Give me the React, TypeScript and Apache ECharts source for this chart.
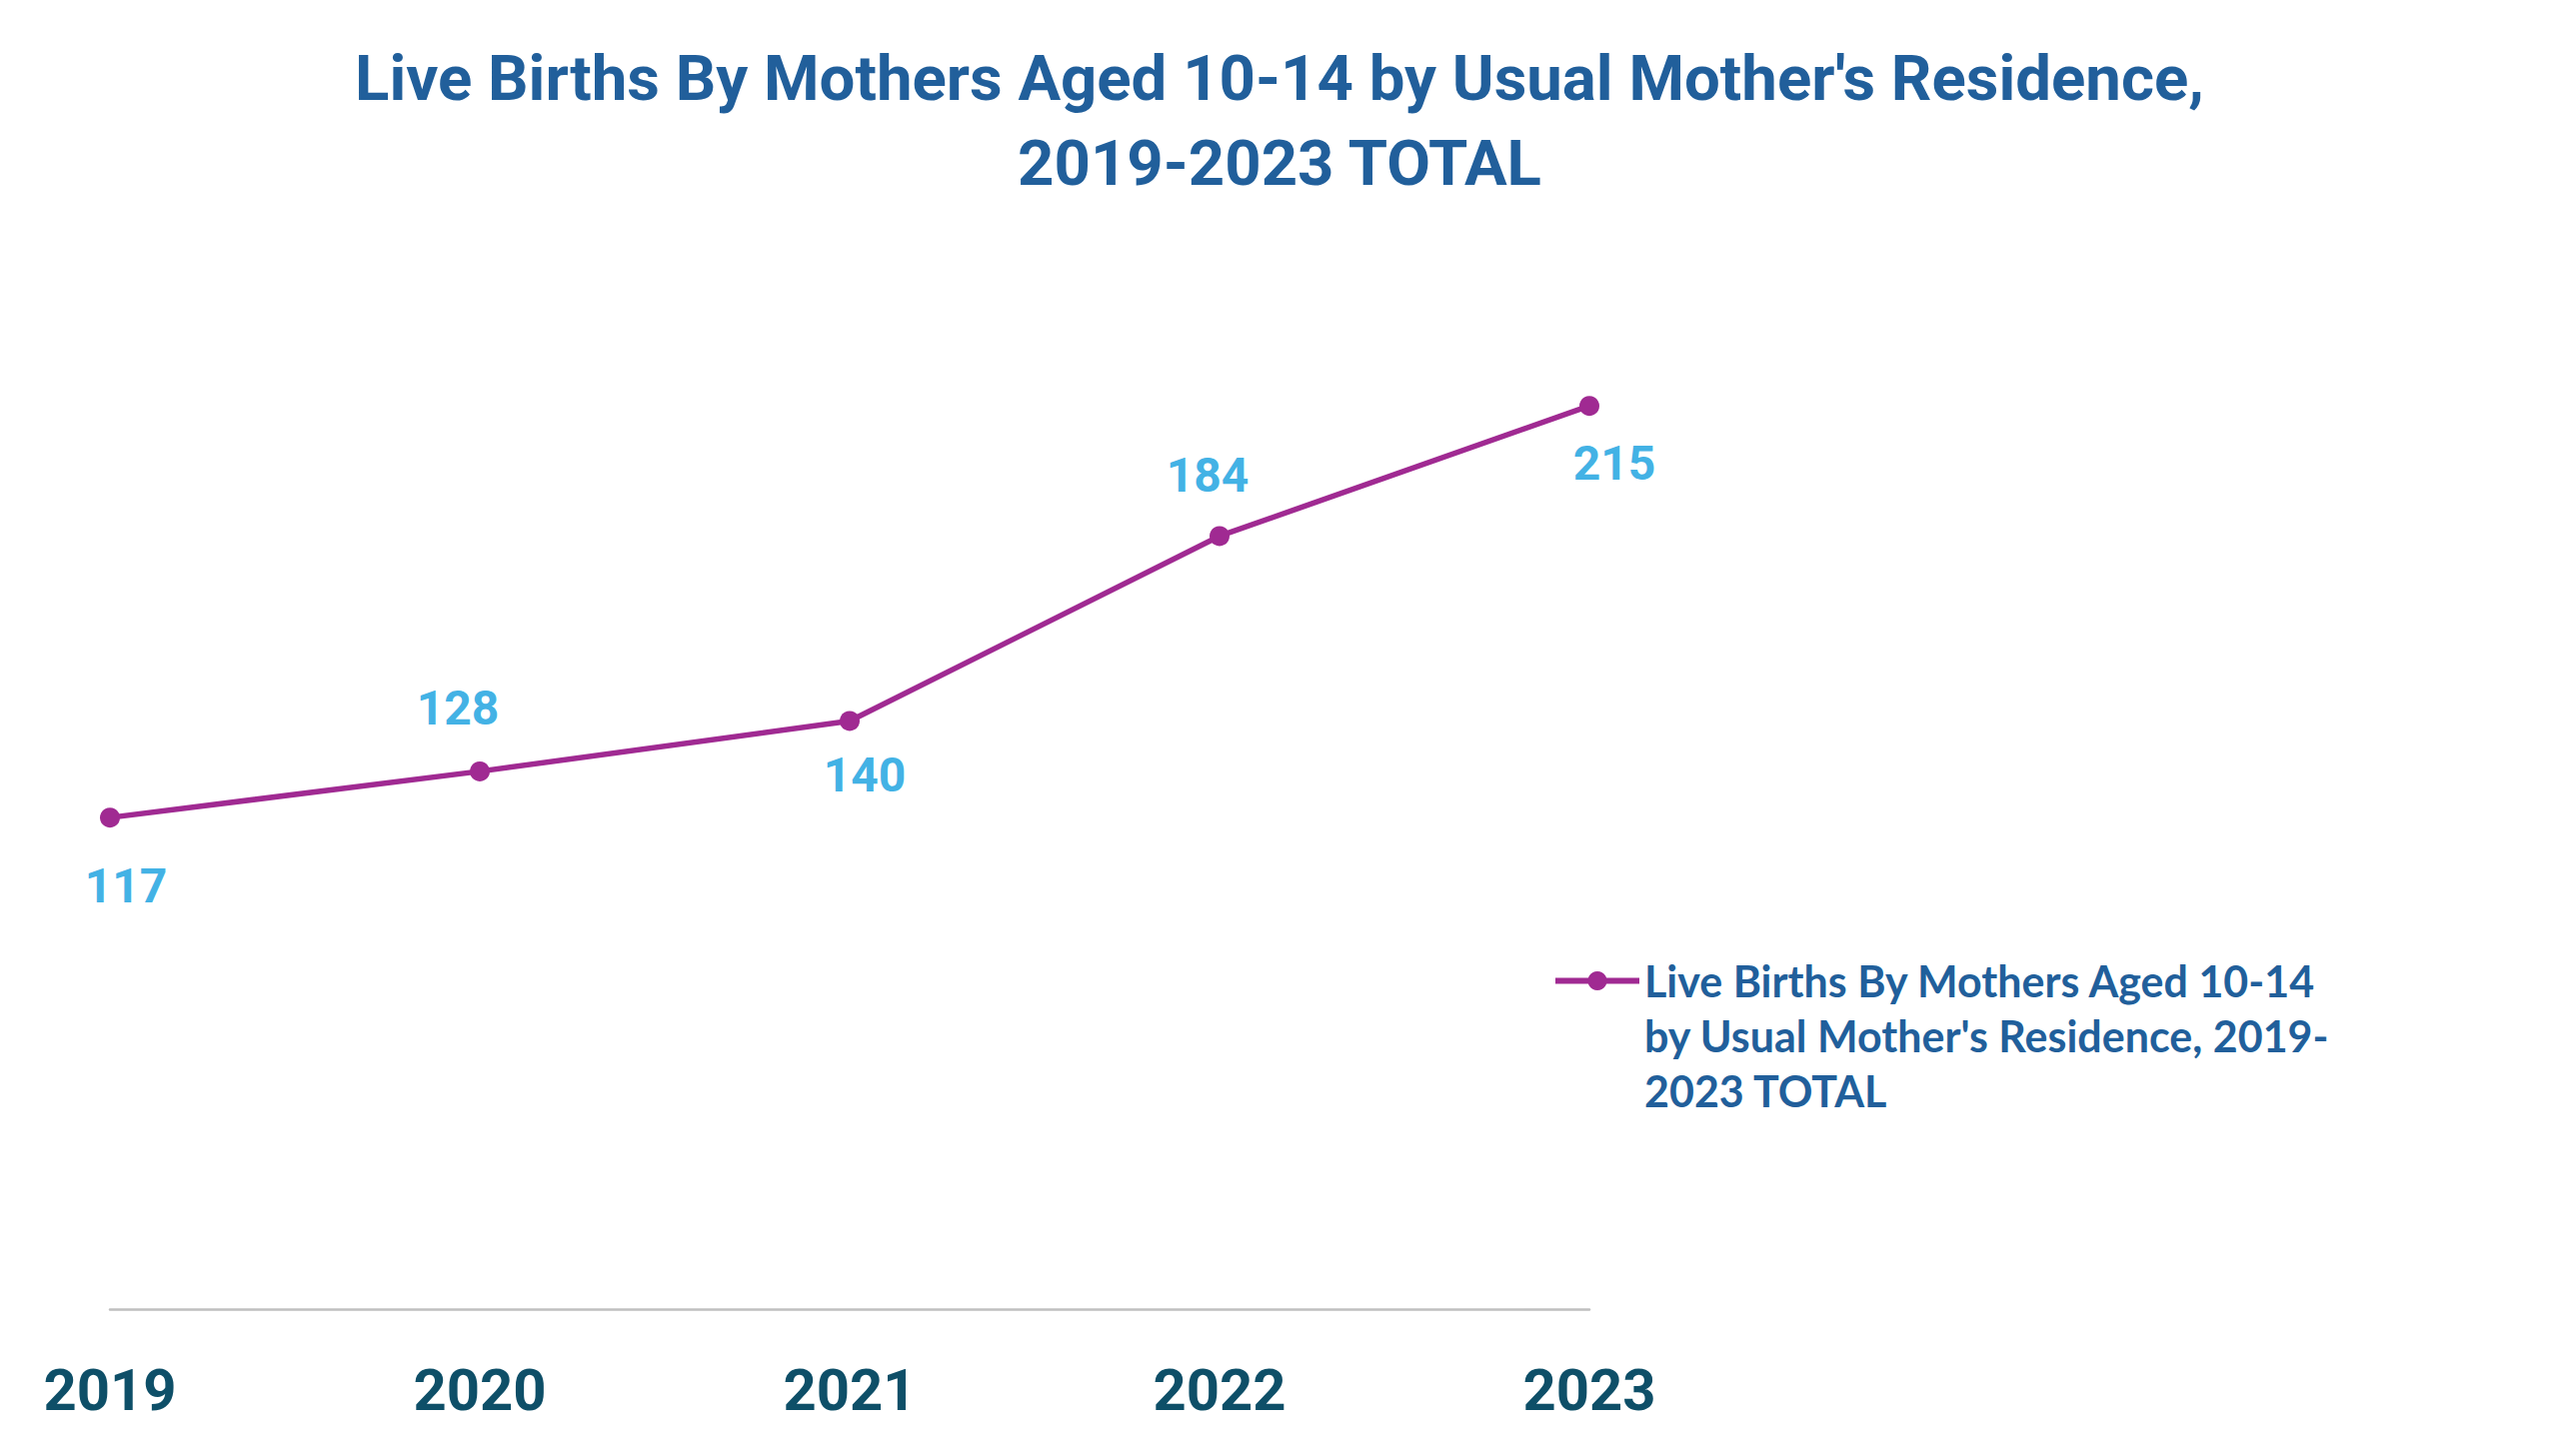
import React, { useEffect, useRef } from "react";
import * as echarts from "echarts";

const years = ["2019", "2020", "2021", "2022", "2023"];
const births = [117, 128, 140, 184, 215];
const seriesName =
  "Live Births By Mothers Aged 10-14 by Usual Mother's Residence, 2019-2023 TOTAL";
const titleText =
  "Live Births By Mothers Aged 10-14 by Usual Mother's Residence,\n2019-2023 TOTAL";
const legendLines = [
  "Live Births By Mothers Aged 10-14",
  "by Usual Mother's Residence, 2019-",
  "2023 TOTAL",
];
// label placement relative to each point (style, not data)
const labelOffsets = [
  [16, 68],
  [-22, -63],
  [15, 54],
  [-12, -61],
  [25, 57],
];

export default function App() {
  const ref = useRef<HTMLDivElement>(null);
  useEffect(() => {
    if (!ref.current) return;
    const chart = echarts.init(ref.current, undefined, { renderer: "svg" });
    chart.setOption({
      animation: false,
      backgroundColor: "#ffffff",
      title: {
        text: titleText,
        left: "center",
        top: 31,
        textStyle: {
          fontFamily: "Roboto",
          fontWeight: "bold",
          fontSize: 63.5,
          lineHeight: 85,
          color: "#215F9B",
          align: "center",
        },
      },
      legend: {
        show: true,
        left: 1553,
        top: 844,
        padding: 0,
        orient: "vertical",
        selectedMode: false,
        itemWidth: 84,
        itemHeight: 24,
        lineStyle: { width: 6 },
        formatter: () => "\n\n" + legendLines.join("\n"),
        textStyle: {
          fontFamily: "Lato",
          fontWeight: "bold",
          fontSize: 43,
          lineHeight: 55,
          color: "#215F9B",
        },
        data: [seriesName],
      },
      grid: {
        left: 110,
        right: 970,
        top: 259,
        bottom: 147,
        containLabel: false,
      },
      xAxis: {
        type: "category",
        data: years,
        boundaryGap: false,
        axisLine: { show: true, lineStyle: { color: "#BFBFBF", width: 2.5 } },
        axisTick: { show: false },
        splitLine: { show: false },
        axisLabel: {
          margin: 52,
          fontFamily: "Roboto",
          fontWeight: "bold",
          fontSize: 58,
          color: "#0E4F68",
        },
      },
      yAxis: {
        type: "value",
        min: 0,
        max: 250,
        show: false,
        splitLine: { show: false },
      },
      series: [
        {
          name: seriesName,
          type: "line",
          data: births.map((v, i) => ({
            value: v,
            label: { offset: labelOffsets[i] },
          })),
          symbol: "circle",
          symbolSize: 20,
          lineStyle: { color: "#A02A92", width: 5.5 },
          itemStyle: { color: "#A02A92" },
          label: {
            show: true,
            position: "inside",
            fontFamily: "Roboto",
            fontWeight: "bold",
            fontSize: 48,
            color: "#43B2E5",
          },
        },
      ],
    });
    return () => chart.dispose();
  }, []);
  return (
    <div
      ref={ref}
      style={{ position: "fixed", left: 0, top: 0, width: "2560px", height: "1457px" }}
    />
  );
}
